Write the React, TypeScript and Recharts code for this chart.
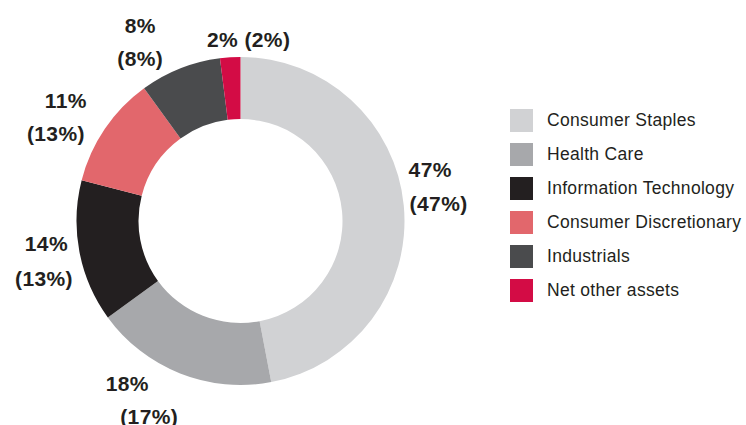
import { PieChart, Pie, Cell, Legend } from 'recharts';

const sectors = ['Consumer Staples', 'Health Care', 'Information Technology', 'Consumer Discretionary', 'Industrials', 'Net other assets'];
const currentPct = [47, 18, 14, 11, 8, 2];
const priorPct = [47, 17, 13, 13, 8, 2];
const colors = ['#d1d2d4', '#a7a8ab', '#231f20', '#e2676c', '#4a4b4d', '#d30c45'];

// label placement tweaks around the radial point (anchor, line1 dx/dy, line2 dx/dy)
const labelLayout = [
  { anchor: 'start', l1: [-30, -33], l2: [-29, 1] },
  { anchor: 'middle', l1: [-40, -23], l2: [-18, 10] },
  { anchor: 'end', l1: [23, -15], l2: [28, 20] },
  { anchor: 'end', l1: [11, -9], l2: [9, 24] },
  { anchor: 'middle', l1: [-27, -10], l2: [-27, 23] },
  { anchor: 'start', l1: [-21, 17], l2: null },
];

const data = sectors.map((name, i) => ({ name, value: currentPct[i], prior: priorPct[i] }));

const RADIAN = Math.PI / 180;
const textStyle = { fontFamily: '"Liberation Sans", Arial, sans-serif', fontWeight: 700, fontSize: 21, letterSpacing: 0.4, fill: '#231f20' };

const renderLabel = (props: any) => {
  const { cx, cy, midAngle, outerRadius, index } = props;
  const r = outerRadius + 35;
  const x = cx + r * Math.cos(-midAngle * RADIAN);
  const y = cy + r * Math.sin(-midAngle * RADIAN);
  const lay = labelLayout[index];
  const d = data[index];
  if (!lay.l2) {
    return (
      <text x={x + lay.l1[0]} y={y + lay.l1[1]} textAnchor={lay.anchor} dominantBaseline="central" style={textStyle}>
        {`${d.value}% (${d.prior}%)`}
      </text>
    );
  }
  return (
    <g>
      <text x={x + lay.l1[0]} y={y + lay.l1[1]} textAnchor={lay.anchor} dominantBaseline="central" style={textStyle}>
        {`${d.value}%`}
      </text>
      <text x={x + lay.l2[0]} y={y + lay.l2[1]} textAnchor={lay.anchor} dominantBaseline="central" style={textStyle}>
        {`(${d.prior}%)`}
      </text>
    </g>
  );
};

const renderLegend = () => (
  <div>
    {sectors.map((s, i) => (
      <div key={s} style={{ display: 'flex', alignItems: 'center', height: 23, marginBottom: 11 }}>
        <span style={{ width: 23, height: 23, background: colors[i], display: 'inline-block', flexShrink: 0 }} />
        <span style={{ marginLeft: 14, fontFamily: '"Liberation Sans", Arial, sans-serif', fontSize: 17.5, letterSpacing: 0.3, color: '#231f20', whiteSpace: 'nowrap' }}>{s}</span>
      </div>
    ))}
  </div>
);

export default function App() {
  return (
    <div style={{ position: 'absolute', left: 0, top: 0, width: 746, height: 425, background: '#fff', overflow: 'hidden' }}>
      <PieChart width={746} height={425} margin={{ top: 0, right: 0, bottom: 0, left: 0 }}>
        <Pie
          data={data}
          dataKey="value"
          nameKey="name"
          cx={240.5}
          cy={221}
          innerRadius={102}
          outerRadius={164}
          startAngle={90}
          endAngle={-270}
          stroke="none"
          label={renderLabel}
          labelLine={false}
          isAnimationActive={false}
        >
          {data.map((d, i) => (
            <Cell key={d.name} fill={colors[i]} />
          ))}
        </Pie>
        <Legend
          content={renderLegend}
          wrapperStyle={{ position: 'absolute', left: 510, top: 109, width: 236, height: 'auto' }}
        />
      </PieChart>
    </div>
  );
}
